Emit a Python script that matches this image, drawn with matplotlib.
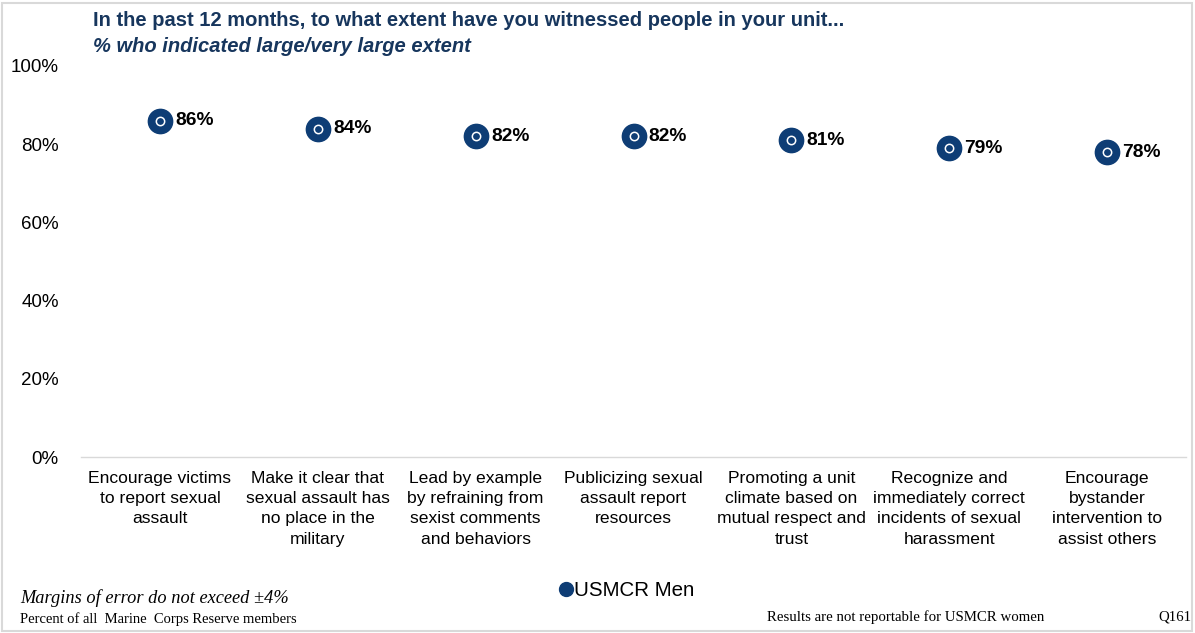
import matplotlib.pyplot as plt
from matplotlib.lines import Line2D
from matplotlib.patches import Rectangle

# data
categories = [
    "Encourage victims\nto report sexual\nassault",
    "Make it clear that\nsexual assault has\nno place in the\nmilitary",
    "Lead by example\nby refraining from\nsexist comments\nand behaviors",
    "Publicizing sexual\nassault report\nresources",
    "Promoting a unit\nclimate based on\nmutual respect and\ntrust",
    "Recognize and\nimmediately correct\nincidents of sexual\nharassment",
    "Encourage\nbystander\nintervention to\nassist others",
]
men_pct = [86, 84, 82, 82, 81, 79, 78]
yticks = [0, 20, 40, 60, 80, 100]

navy = "#0E3D75"
title_col = "#17365D"

plt.rcParams['font.family'] = ['Liberation Sans', 'DejaVu Sans']

W, H = 1195, 633
fig = plt.figure(figsize=(W / 100, H / 100), dpi=100)
ax = fig.add_axes([81 / W, 1 - 457 / H, (1186 - 81) / W, (457 - 66) / H])

x = list(range(len(categories)))
ax.plot(x, men_pct, linestyle="none", marker="o", markersize=17.5,
        markerfacecolor=navy, markeredgecolor=navy, zorder=3)
ax.plot(x, men_pct, linestyle="none", marker="o", markersize=6,
        markerfacecolor="none", markeredgecolor="white", markeredgewidth=1.1, zorder=4)
for xi, v in zip(x, men_pct):
    ax.annotate(f"{v}%", (xi, v), xytext=(11, 0), textcoords="offset points",
                ha="left", va="center", fontsize=13.8, fontweight="bold", color="black")

ax.set_xlim(-0.5, len(categories) - 0.5)
ax.set_ylim(0, 100)
ax.set_yticks(yticks)
ax.set_yticklabels([f"{t}%" for t in yticks], fontsize=13.5)
ax.set_xticks(x)
ax.set_xticklabels(categories, fontsize=12.6, linespacing=1.44, va="top")
ax.tick_params(axis="both", length=0)
ax.tick_params(axis="y", pad=16)
ax.tick_params(axis="x", pad=10)
for s in ["top", "right", "left"]:
    ax.spines[s].set_visible(False)
ax.spines["bottom"].set_color("#D9D9D9")
ax.spines["bottom"].set_linewidth(1)

# titles
fig.text(93 / W, 1 - 20 / H, "In the past 12 months, to what extent have you witnessed people in your unit...",
         fontsize=14.5, fontweight="bold", color=title_col, va="center", ha="left")
fig.text(93 / W, 1 - 47 / H, "% who indicated large/very large extent",
         fontsize=14.5, fontweight="bold", style="italic", color=title_col, va="center", ha="left")

# legend
handle = Line2D([], [], linestyle="none", marker="o", markersize=10,
                markerfacecolor=navy, markeredgecolor=navy)
fig.legend([handle], ["USMCR Men"], loc="center", bbox_to_anchor=(626 / W, 1 - 591 / H),
           frameon=False, fontsize=14.8, handletextpad=0.0, borderpad=0, handlelength=0.8)

# footnotes
serif = ['Liberation Serif', 'DejaVu Serif']
fig.text(20 / W, 1 - 598 / H, "Margins of error do not exceed \u00b14%", family=serif,
         style="italic", fontsize=13.2, va="center", ha="left")
fig.text(20 / W, 1 - 619 / H, "Percent of all  Marine  Corps Reserve members", family=serif,
         fontsize=10.5, va="center", ha="left")
fig.text(767 / W, 1 - 617 / H, "Results are not reportable for USMCR women", family=serif,
         fontsize=10.7, va="center", ha="left")
fig.text(1158 / W, 1 - 617 / H, "Q161", family=serif, fontsize=10.7, va="center", ha="left")

# frame around the slide
fig.patches.append(Rectangle((2 / W, 2 / H), (W - 5) / W, (H - 5) / H, transform=fig.transFigure,
                             fill=False, edgecolor="#D9D9D9", linewidth=1.5))

fig.savefig("out.png", dpi=100)
